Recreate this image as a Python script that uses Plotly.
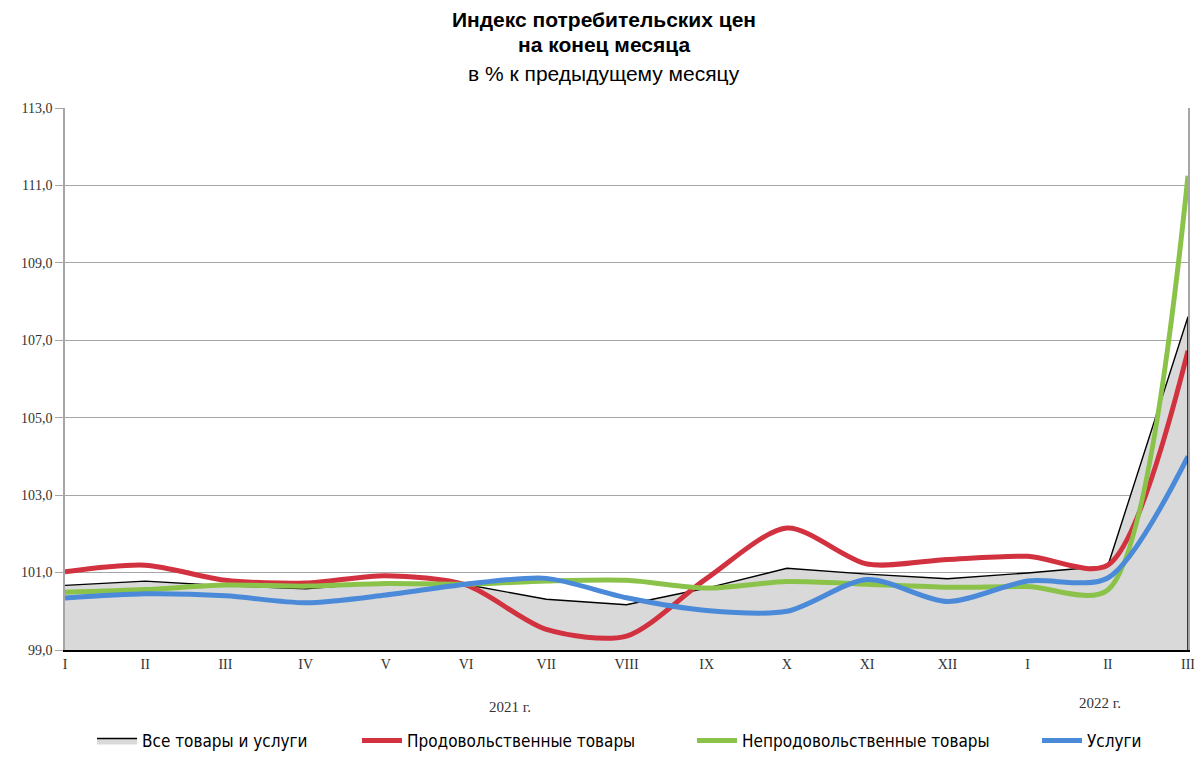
import plotly.graph_objects as go

# months: 2021 I..XII, 2022 I..III
months = ["I", "II", "III", "IV", "V", "VI", "VII", "VIII", "IX", "X", "XI", "XII", "I", "II", "III"]
all_goods = [100.67, 100.78, 100.66, 100.58, 100.74, 100.69, 100.31, 100.17, 100.60, 101.11, 100.96, 100.84, 100.99, 101.17, 107.61]
food = [101.02, 101.19, 100.80, 100.73, 100.92, 100.68, 99.53, 99.36, 100.85, 102.15, 101.22, 101.34, 101.42, 101.19, 106.73]
non_food = [100.49, 100.56, 100.68, 100.65, 100.72, 100.70, 100.78, 100.80, 100.60, 100.77, 100.70, 100.62, 100.64, 100.55, 111.25]
services = [100.34, 100.45, 100.40, 100.22, 100.42, 100.70, 100.85, 100.35, 100.02, 100.00, 100.82, 100.25, 100.78, 100.86, 104.00]
years = ["2021 г.", "2022 г."]
y_ticks = [99, 101, 103, 105, 107, 109, 111, 113]

x = list(range(len(months)))

# page has an 8px body margin, so the figure is drawn from (8, 8)
OFF = 8
PL, PR, PT, PB = 65 - OFF, 1188 - OFF, 108 - OFF, 650 - OFF
W, H = 1202 - OFF, 769 - OFF
pw, ph = PR - PL, PB - PT


def px_x(xs):
    return (xs - OFF - PL) / pw


def px_y(ys):
    return 1 - (ys - OFF - PT) / ph


fig = go.Figure()

fig.add_trace(go.Scatter(
    x=x, y=all_goods, name="Все товары и услуги", mode="lines",
    fill="tozeroy", fillcolor="#d9d9d9",
    line=dict(color="black", width=1.4), legend="legend",
))
fig.add_trace(go.Scatter(
    x=x, y=food, name="Продовольственные товары", mode="lines",
    line=dict(color="#d2323f", width=5, shape="spline", smoothing=0.8), legend="legend2",
))
fig.add_trace(go.Scatter(
    x=x, y=non_food, name="Непродовольственные товары", mode="lines",
    line=dict(color="#8bc34a", width=5, shape="spline", smoothing=0.8), legend="legend3",
))
fig.add_trace(go.Scatter(
    x=x, y=services, name="Услуги", mode="lines",
    line=dict(color="#4a8ad8", width=5, shape="spline", smoothing=0.8), legend="legend4",
))

# right edge of the filled area
fig.add_shape(type="line", x0=x[-1], x1=x[-1], y0=y_ticks[0], y1=all_goods[-1],
              xref="x", yref="y", line=dict(color="black", width=1.5))

# title, three lines
title_lines = [
    ("<b>Индекс потребительских цен</b>", 19),
    ("<b>на конец месяца</b>", 45),
    ("в % к предыдущему месяцу", 73),
]
for txt, ypx in title_lines:
    fig.add_annotation(x=px_x(604), xref="paper", y=px_y(ypx), yref="paper",
                       text=txt, showarrow=False, xanchor="center", yanchor="middle",
                       font=dict(family="Liberation Sans", size=21, color="black"))

# year labels
fig.add_annotation(x=5.55, y=px_y(707), xref="x", yref="paper", text=years[0],
                   showarrow=False, yanchor="middle",
                   font=dict(family="Liberation Serif", size=15, color="#333"))
fig.add_annotation(x=12.9, y=px_y(703), xref="x", yref="paper", text=years[1],
                   showarrow=False, yanchor="middle",
                   font=dict(family="Liberation Serif", size=15, color="#333"))

legend_font = dict(family="Liberation Sans Narrow, DejaVu Sans Condensed, Liberation Sans",
                   size=17, color="black")
legend_x = [92, 357, 692, 1037]
legends = {}
for i, lx in enumerate(legend_x):
    key = "legend" if i == 0 else "legend%d" % (i + 1)
    legends[key] = dict(
        orientation="h", x=px_x(lx), xanchor="left", y=px_y(741), yanchor="middle",
        font=legend_font, itemwidth=40, bgcolor="rgba(0,0,0,0)",
    )

fig.update_layout(
    width=W, height=H,
    margin=dict(l=PL, r=W - PR, t=PT, b=H - PB, autoexpand=False),
    plot_bgcolor="white", paper_bgcolor="white",
    separators=", ",
    xaxis=dict(
        range=[0, 14], tickvals=x, ticktext=months, showgrid=False,
        showline=True, linecolor="black", linewidth=2, ticks="",
        tickfont=dict(family="Liberation Serif", size=14, color="#333"),
        zeroline=False, automargin=False,
    ),
    yaxis=dict(
        range=[99, 113], tickvals=y_ticks, tickformat=".1f",
        showgrid=True, gridcolor="#a6a6a6", gridwidth=1,
        showline=True, linecolor="#a6a6a6", linewidth=1.5, mirror=True,
        ticks="outside", ticklen=8, tickcolor="#a6a6a6",
        tickfont=dict(family="Liberation Serif", size=14, color="#333"),
        zeroline=False, automargin=False,
    ),
    showlegend=True,
    **legends,
)

fig.write_html("out.html")
